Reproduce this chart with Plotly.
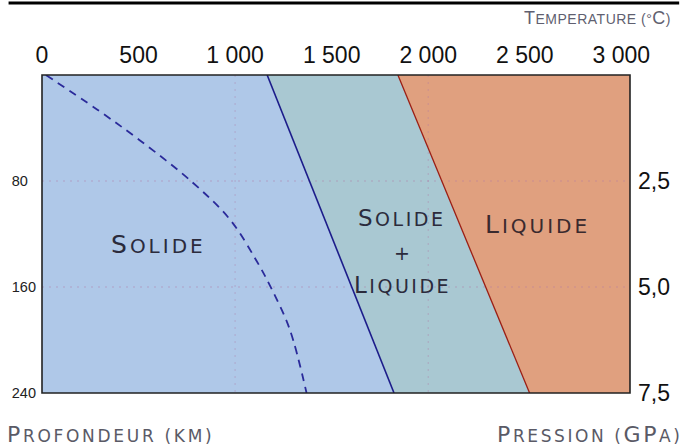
import plotly.graph_objects as go

# ---- data ----
T_MIN, T_MAX = 0, 3045          # temperature span of the plot (°C)
DEPTH_MAX = 240                  # km
temp_ticks = [0, 500, 1000, 1500, 2000, 2500, 3000]
temp_labels = ["0", "500", "1 000", "1 500", "2 000", "2 500", "3 000"]
depth_ticks = [80, 160, 240]
depth_labels = ["80\u2007", "160", "240"]
pres_ticks = [2.5, 5.0, 7.5]
pres_labels = ["2,5", "5,0", "7,5"]
PRES_MAX = 7.5

solidus_T = [1166, 1823]
solidus_d = [0, 240]
liquidus_T = [1843, 2525]
liquidus_d = [0, 240]
geotherm_T = [20, 285, 504, 779, 973, 1110, 1191, 1283, 1370]
geotherm_d = [0, 26, 49, 81, 109, 140, 162, 192, 240]

C_SOL = "#afc8e8"
C_MIX = "#a9c8d2"
C_LIQ = "#e0a07f"
FONT = "DejaVu Sans"

W, H = 682, 446
L, R, T, B = 34, 50, 75, 53
pw, ph = W - L - R, H - T - B

fig = go.Figure()
# solid region
fig.add_trace(go.Scatter(
    x=[T_MIN, solidus_T[0], solidus_T[1], T_MIN, T_MIN],
    y=[0, solidus_d[0], solidus_d[1], DEPTH_MAX, 0],
    fill="toself", fillcolor=C_SOL, line=dict(width=0), mode="lines",
    hoverinfo="skip", showlegend=False))
# solid + liquid region
fig.add_trace(go.Scatter(
    x=[solidus_T[0], liquidus_T[0], liquidus_T[1], solidus_T[1], solidus_T[0]],
    y=[solidus_d[0], liquidus_d[0], liquidus_d[1], solidus_d[1], solidus_d[0]],
    fill="toself", fillcolor=C_MIX, line=dict(width=0), mode="lines",
    hoverinfo="skip", showlegend=False))
# liquid region
fig.add_trace(go.Scatter(
    x=[liquidus_T[0], T_MAX, T_MAX, liquidus_T[1], liquidus_T[0]],
    y=[liquidus_d[0], 0, DEPTH_MAX, liquidus_d[1], liquidus_d[0]],
    fill="toself", fillcolor=C_LIQ, line=dict(width=0), mode="lines",
    hoverinfo="skip", showlegend=False))

# dotted grid on top of the fills
for d in depth_ticks[:-1]:
    fig.add_trace(go.Scatter(x=[T_MIN, T_MAX], y=[d, d], mode="lines",
                             line=dict(color="rgba(175,120,165,0.5)", width=1, dash="2px,5px"),
                             hoverinfo="skip", showlegend=False))
for t in [1000, 2000]:
    fig.add_trace(go.Scatter(x=[t, t], y=[0, DEPTH_MAX], mode="lines",
                             line=dict(color="rgba(175,120,165,0.4)", width=1, dash="2px,5px"),
                             hoverinfo="skip", showlegend=False))

# boundaries
fig.add_trace(go.Scatter(x=solidus_T, y=solidus_d, mode="lines",
                         line=dict(color="#1c1c8a", width=1.6), hoverinfo="skip", showlegend=False))
fig.add_trace(go.Scatter(x=liquidus_T, y=liquidus_d, mode="lines",
                         line=dict(color="#9a1e14", width=1.3), hoverinfo="skip", showlegend=False))
fig.add_trace(go.Scatter(x=geotherm_T, y=geotherm_d, mode="lines", line_shape="spline",
                         line=dict(color="#2a2a9a", width=1.8, dash="8px,6px", smoothing=1.0),
                         hoverinfo="skip", showlegend=False))
# invisible trace for the pressure axis
fig.add_trace(go.Scatter(x=[T_MIN, T_MIN], y=[0, PRES_MAX], yaxis="y2", mode="markers",
                         marker=dict(opacity=0), hoverinfo="skip", showlegend=False))


def sc(word, big, sp):
    """small-caps: first letter larger, with letter spacing"""
    return (f"<span style='letter-spacing:{sp}px'>"
            f"<span style='font-size:{big}px'>{word[0]}</span>{word[1:]}</span>")


ink = "#2b2b3c"
fig.add_annotation(x=601, y=128, xref="x", yref="y", text=sc("SOLIDE", 25, 3),
                   showarrow=False, font=dict(color=ink, family=FONT, size=20))
fig.add_annotation(x=1863, y=108, xref="x", yref="y", text=sc("SOLIDE", 23, 2.5),
                   showarrow=False, font=dict(color=ink, family=FONT, size=19))
fig.add_annotation(x=1863, y=134, xref="x", yref="y", text="+",
                   showarrow=False, font=dict(color=ink, family=FONT, size=19))
fig.add_annotation(x=1868, y=158.5, xref="x", yref="y", text=sc("LIQUIDE", 23, 2.5),
                   showarrow=False, font=dict(color=ink, family=FONT, size=19))
fig.add_annotation(x=2566, y=113, xref="x", yref="y", text=sc("LIQUIDE", 25, 3),
                   showarrow=False, font=dict(color="#3a2a2e", family=FONT, size=20))


def pix(px, py):
    return (px - L) / pw, 1 - (py - T) / ph


x0, y0 = pix(676, 18)
fig.add_annotation(x=x0, y=y0, xref="paper", yref="paper",
                   text="<span style='letter-spacing:0.5px'><span style='font-size:18px'>T</span>EMPERATURE (°<span style='font-size:18px'>C</span>)</span>",
                   showarrow=False, xanchor="right", yanchor="middle",
                   font=dict(color="#5f5f70", family="Liberation Sans", size=14))
x0, y0 = pix(-4, 434)
fig.add_annotation(x=x0, y=y0, xref="paper", yref="paper",
                   text="<span style='letter-spacing:2.7px'><span style='font-size:22px'>P</span>ROFONDEUR (KM)</span>",
                   showarrow=False, xanchor="left", yanchor="middle",
                   font=dict(color="#5a5a66", family=FONT, size=17))
x0, y0 = pix(495, 434)
fig.add_annotation(x=x0, y=y0, xref="paper", yref="paper",
                   text="<span style='letter-spacing:2.6px'><span style='font-size:22px'>P</span>RESSION "
                        "(<span style='font-size:22px'>GP</span>A)</span>",
                   showarrow=False, xanchor="left", yanchor="middle",
                   font=dict(color="#5a5a66", family=FONT, size=17))

# frame and top rule
fig.add_shape(type="rect", xref="paper", yref="paper", x0=0, y0=0, x1=1, y1=1,
              line=dict(color="#222", width=1.6), layer="above")
fig.add_shape(type="line", xref="paper", yref="paper", x0=-L / pw, x1=1 + R / pw,
              y0=1 + (T - 3) / ph, y1=1 + (T - 3) / ph, line=dict(color="#000", width=3))

fig.update_layout(
    width=W, height=H, margin=dict(l=L, r=R, t=T, b=B),
    plot_bgcolor="white", paper_bgcolor="white",
    xaxis=dict(range=[T_MIN, T_MAX], side="top", tickvals=temp_ticks, ticktext=temp_labels,
               showgrid=False, zeroline=False, ticks="", showline=False, ticklabelstandoff=6,
               tickfont=dict(family="Liberation Sans", size=23, color="#111")),
    yaxis=dict(range=[DEPTH_MAX, 0], tickvals=depth_ticks, ticktext=depth_labels,
               showgrid=False, zeroline=False, ticks="", showline=False, ticklabelstandoff=5,
               tickfont=dict(family="Liberation Sans", size=14.5, color="#222")),
    yaxis2=dict(range=[PRES_MAX, 0], overlaying="y", side="right", tickvals=pres_ticks,
                ticktext=pres_labels, showgrid=False, zeroline=False, ticks="", ticklabelstandoff=7,
                tickfont=dict(family="Liberation Sans", size=23, color="#111")),
)
fig.write_html("out.html", post_script="document.body.style.margin='0';",
               config={"displayModeBar": False})
